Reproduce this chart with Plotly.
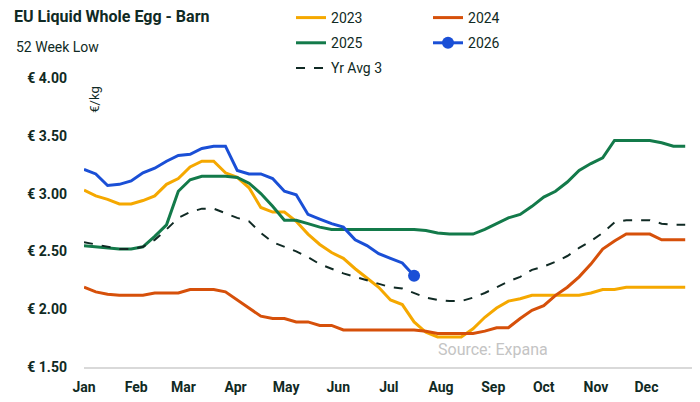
import pandas as pd
import plotly.graph_objects as go

# weekly 52-week-low prices, €/kg
weeks = list(range(1, 53))

y2023 = [3.03, 2.98, 2.95, 2.91, 2.91, 2.94, 2.98, 3.08, 3.13, 3.23, 3.28, 3.28, 3.18,
         3.14, 3.05, 2.88, 2.84, 2.84, 2.76, 2.65, 2.56, 2.49, 2.44, 2.35, 2.27, 2.19,
         2.08, 2.04, 1.89, 1.80, 1.76, 1.76, 1.76, 1.83, 1.93, 2.01, 2.07, 2.09, 2.12,
         2.12, 2.12, 2.12, 2.12, 2.14, 2.17, 2.17, 2.19, 2.19, 2.19, 2.19, 2.19, 2.19]
y2024 = [2.19, 2.15, 2.13, 2.12, 2.12, 2.12, 2.14, 2.14, 2.14, 2.17, 2.17, 2.17, 2.15,
         2.08, 2.01, 1.94, 1.92, 1.92, 1.89, 1.89, 1.86, 1.86, 1.82, 1.82, 1.82, 1.82,
         1.82, 1.82, 1.82, 1.81, 1.79, 1.79, 1.79, 1.79, 1.81, 1.84, 1.84, 1.92, 1.99,
         2.03, 2.12, 2.19, 2.28, 2.39, 2.52, 2.59, 2.65, 2.65, 2.65, 2.60, 2.60, 2.60]
y2025 = [2.55, 2.54, 2.53, 2.52, 2.52, 2.54, 2.63, 2.73, 3.02, 3.12, 3.15, 3.15, 3.15,
         3.14, 3.09, 3.00, 2.89, 2.77, 2.77, 2.74, 2.71, 2.69, 2.69, 2.69, 2.69, 2.69,
         2.69, 2.69, 2.69, 2.68, 2.66, 2.65, 2.65, 2.65, 2.69, 2.74, 2.79, 2.82, 2.89,
         2.97, 3.02, 3.10, 3.20, 3.26, 3.31, 3.46, 3.46, 3.46, 3.46, 3.44, 3.41, 3.41]
y2026 = [3.21, 3.17, 3.07, 3.08, 3.11, 3.18, 3.22, 3.28, 3.33, 3.34, 3.39, 3.41, 3.41,
         3.20, 3.17, 3.17, 3.13, 3.02, 2.99, 2.82, 2.78, 2.74, 2.71, 2.60, 2.55, 2.48,
         2.44, 2.40, 2.29]
yavg3 = [2.58, 2.56, 2.54, 2.52, 2.52, 2.54, 2.60, 2.69, 2.79, 2.84, 2.87, 2.87, 2.83,
         2.79, 2.76, 2.66, 2.58, 2.54, 2.50, 2.45, 2.39, 2.35, 2.31, 2.28, 2.25, 2.22,
         2.19, 2.18, 2.14, 2.10, 2.08, 2.07, 2.07, 2.10, 2.14, 2.19, 2.24, 2.28, 2.34,
         2.37, 2.41, 2.46, 2.53, 2.59, 2.66, 2.75, 2.77, 2.77, 2.77, 2.74, 2.73, 2.73]

dates = [pd.Timestamp("2025-01-01") + pd.Timedelta(weeks=w - 1) for w in weeks]

FONT = "Roboto, sans-serif"
DARK = "#102a24"
W, H = 692, 394  # page body keeps an 8px margin

fig = go.Figure()
fig.add_trace(go.Scatter(x=dates, y=y2023, mode="lines", name="2023", legendgroup="a",
                         line=dict(color="#f5a800", width=3), legend="legend"))
fig.add_trace(go.Scatter(x=dates, y=y2025, mode="lines", name="2025", legendgroup="b",
                         line=dict(color="#137a4a", width=3), legend="legend"))
fig.add_trace(go.Scatter(x=dates, y=yavg3, mode="lines", name="Yr Avg 3", legendgroup="c",
                         line=dict(color=DARK, width=2, dash="dash"), legend="legend"))
fig.add_trace(go.Scatter(x=dates, y=y2024, mode="lines", name="2024", legendgroup="d",
                         line=dict(color="#d6500a", width=3), legend="legend2"))
fig.add_trace(go.Scatter(x=dates[:len(y2026)], y=y2026, mode="lines", showlegend=False,
                         line=dict(color="#1a4fd6", width=3)))
# end marker of the current year, also used for the legend entry
fig.add_trace(go.Scatter(x=[dates[len(y2026) - 1]], y=[y2026[-1]], mode="lines+markers",
                         name="2026", legendgroup="e", line=dict(color="#1a4fd6", width=3),
                         marker=dict(color="#1a4fd6", size=12), legend="legend2"))

leg = dict(yref="paper", y=1.263, xanchor="left", yanchor="top",
           font=dict(size=14, color=DARK), traceorder="grouped", tracegroupgap=4,
           bgcolor="rgba(0,0,0,0)")

fig.update_layout(
    width=W, height=H,
    margin=dict(l=76, r=3, t=70, b=35, autoexpand=False),
    paper_bgcolor="white", plot_bgcolor="white",
    font=dict(family=FONT, color=DARK),
    title=dict(text="<b>EU Liquid Whole Egg - Barn</b>", x=6 / W, xanchor="left",
               y=1 - 8 / H, yanchor="middle", font=dict(size=16, color=DARK)),
    legend=dict(leg, xref="paper", x=0.3377),
    legend2=dict(leg, xref="paper", x=0.5612),
    xaxis=dict(type="date", range=["2025-01-01", "2025-12-31"], dtick="M1",
               tickformat="%b", showgrid=False, zeroline=False, showline=True,
               linecolor="#d9d9d9", linewidth=2, ticks="", ticklabelstandoff=6,
               tickfont=dict(size=14, color=DARK, weight="bold")),
    yaxis=dict(range=[1.5, 4.0], dtick=0.5, tickprefix="€ ", tickformat=".2f",
               showgrid=False, zeroline=False, showline=False, ticks="",
               ticklabelstandoff=16,
               tickfont=dict(size=14, color=DARK, weight="bold")),
    annotations=[
        dict(text="52 Week Low", xref="paper", yref="paper", x=-0.1142, y=1.107,
             xanchor="left", yanchor="middle", showarrow=False,
             font=dict(size=14, color=DARK)),
        dict(text="€/kg", xref="paper", yref="paper", x=0.018, y=0.925,
             xanchor="center", yanchor="middle", textangle=-90, showarrow=False,
             font=dict(size=13, color=DARK)),
        dict(text="Source: Expana", xref="paper", yref="paper", x=0.574, y=0.059,
             xanchor="left", yanchor="middle", showarrow=False,
             font=dict(size=16, color="#c4c4c4")),
    ],
)

fig.write_html("out.html")
